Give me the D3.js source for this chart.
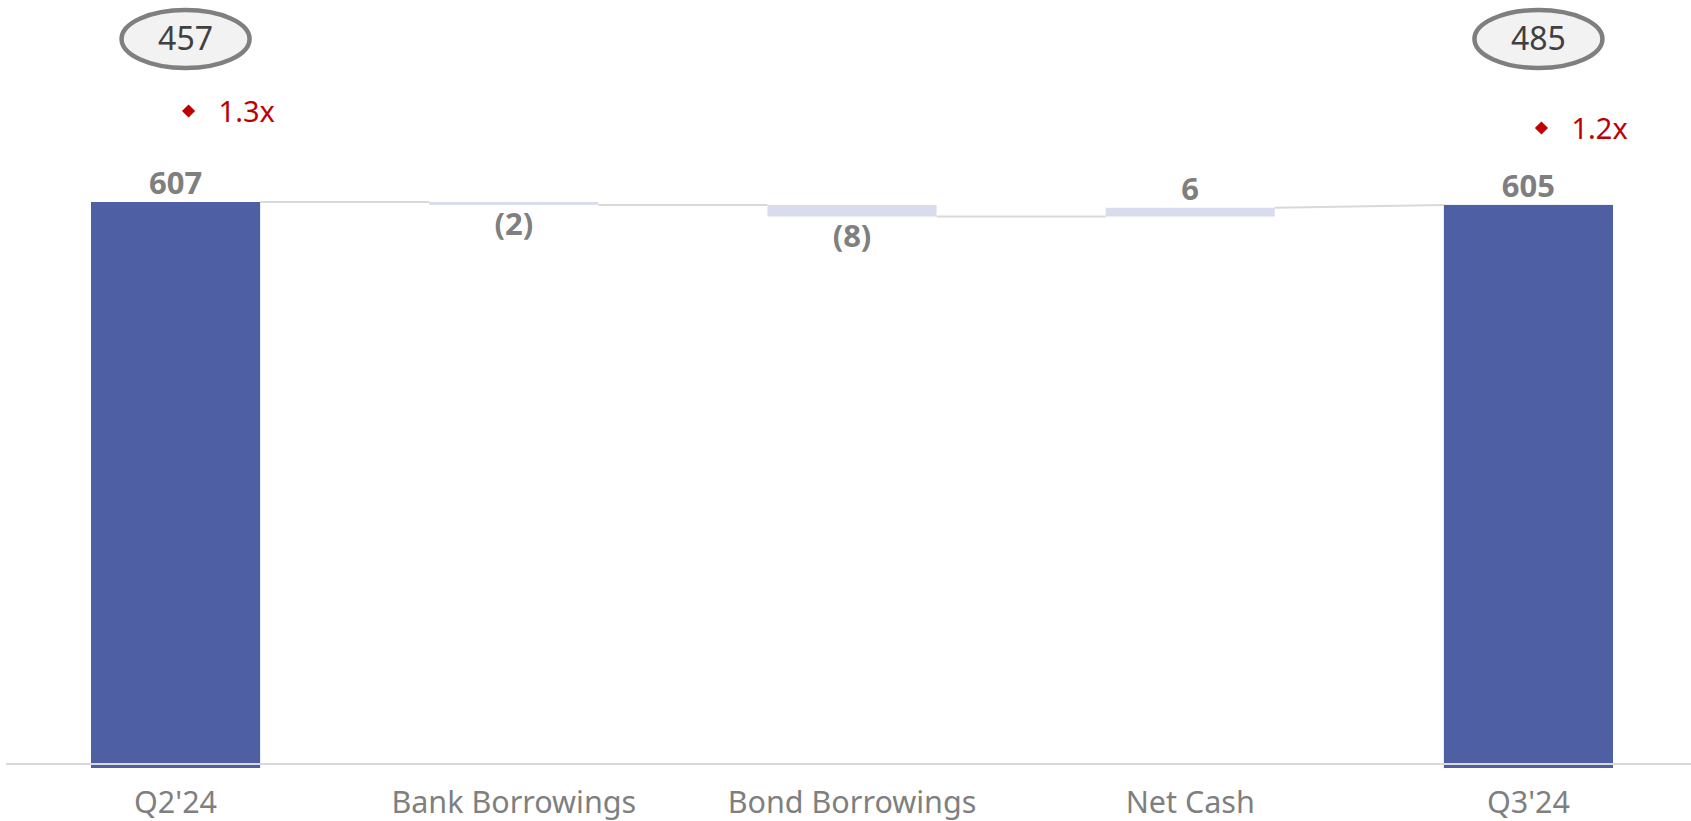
<!DOCTYPE html>
<html lang="en">
<head>
  <meta charset="UTF-8" />
  <title>Net Debt Bridge</title>
  <style>
    body { margin: 0; background: #fff; }
    svg { display: block; font-family: "Noto Sans", "Open Sans", sans-serif; }
    .axis-label { fill: #7f7f7f; font-size: 30.5px; }
    .val { fill: #7f7f7f; font-size: 31px; font-weight: bold; }
    .conn { stroke: #d9d9d9; stroke-width: 2; }
  </style>
</head>
<body>
  <script src="https://d3js.org/d3.v7.min.js"></script>
  <script>
    // waterfall data
    const categories = ["Q2'24", "Bank Borrowings", "Bond Borrowings", "Net Cash", "Q3'24"];
    const values = [607, -2, -8, 6, 605];
    const isTotal = [true, false, false, false, true];
    const valueLabels = ["607", "(2)", "(8)", "6", "605"];

    // bubbles above totals + leverage markers
    const bubbleCats = ["Q2'24", "Q3'24"];
    const bubbleValues = [457, 485];
    const leverage = [1.3, 1.2];
    const leverageLabels = ["1.3x", "1.2x"];

    const width = 1691, height = 821;
    const svg = d3.select("body").append("svg")
      .attr("width", width)
      .attr("height", height);

    const xr = d3.scaleBand()
      .domain(categories)
      .range([91, 1613])
      .paddingInner(0.5)
      .paddingOuter(0);

    // value axis doesn't start at zero in the original
    const y = d3.scaleLinear().domain([217, 607]).range([768, 202]);
    const y2 = d3.scaleLinear().domain([1.2, 1.3]).range([128, 111]);

    // compute start / end of each step
    let running = 0;
    const steps = values.map((v, i) => {
      let start, end;
      if (isTotal[i]) { start = y.domain()[0]; end = v; running = v; }
      else { start = running; end = running + v; running = end; }
      return { cat: categories[i], v, start, end, total: isTotal[i], label: valueLabels[i] };
    });

    // connector lines
    const conns = svg.append("g");
    for (let i = 0; i < steps.length - 1; i++) {
      const a = steps[i], b = steps[i + 1];
      const to = b.total ? b.end : b.start;
      conns.append("line")
        .attr("class", "conn")
        .attr("x1", xr(a.cat) + xr.bandwidth())
        .attr("x2", xr(b.cat))
        .attr("y1", y(a.end))
        .attr("y2", y(to));
    }

    // bars
    svg.append("g").selectAll("rect")
      .data(steps)
      .enter()
      .append("rect")
      .attr("x", d => xr(d.cat))
      .attr("width", xr.bandwidth())
      .attr("y", d => y(Math.max(d.start, d.end)))
      .attr("height", d => Math.max(2, Math.abs(y(d.start) - y(d.end))))
      .attr("fill", d => d.total ? "#4e5fa3" : "#d9dcec");

    // axis line
    svg.append("line")
      .attr("x1", 6).attr("x2", width)
      .attr("y1", 764).attr("y2", 764)
      .attr("stroke", "#d9d9d9")
      .attr("stroke-width", 2);

    // value labels
    svg.append("g").selectAll("text")
      .data(steps)
      .enter()
      .append("text")
      .attr("class", "val")
      .attr("text-anchor", "middle")
      .attr("x", d => xr(d.cat) + xr.bandwidth() / 2)
      .attr("y", d => d.v < 0 ? y(Math.min(d.start, d.end)) + 30 : y(Math.max(d.start, d.end)) - 8)
      .text(d => d.label);

    // category labels
    svg.append("g").selectAll("text")
      .data(categories)
      .enter()
      .append("text")
      .attr("class", "axis-label")
      .attr("text-anchor", "middle")
      .attr("x", d => xr(d) + xr.bandwidth() / 2)
      .attr("y", 813)
      .text(d => d);

    // bubbles
    const bub = svg.append("g").selectAll("g")
      .data(bubbleCats.map((c, i) => ({ cat: c, v: bubbleValues[i] })))
      .enter()
      .append("g")
      .attr("transform", d => `translate(${xr(d.cat) + xr.bandwidth() / 2 + 10},39)`);
    bub.append("ellipse")
      .attr("rx", 64).attr("ry", 29)
      .attr("fill", "#f2f2f2")
      .attr("stroke", "#7f7f7f")
      .attr("stroke-width", 4.5);
    bub.append("text")
      .attr("text-anchor", "middle")
      .attr("dy", 11)
      .attr("fill", "#404040")
      .style("font-size", "32px")
      .text(d => d.v);

    // leverage markers
    const lev = svg.append("g").selectAll("g")
      .data(bubbleCats.map((c, i) => ({ cat: c, v: leverage[i], label: leverageLabels[i] })))
      .enter()
      .append("g")
      .attr("transform", d => `translate(${xr(d.cat) + xr.bandwidth() / 2 + 13},${y2(d.v)})`);
    lev.append("path")
      .attr("d", d3.symbol().type(d3.symbolDiamond2).size(110))
      .attr("fill", "#c00000");
    lev.append("text")
      .attr("x", 30)
      .attr("dy", 11)
      .attr("fill", "#c00000")
      .style("font-size", "29px")
      .text(d => d.label);
  </script>
</body>
</html>
